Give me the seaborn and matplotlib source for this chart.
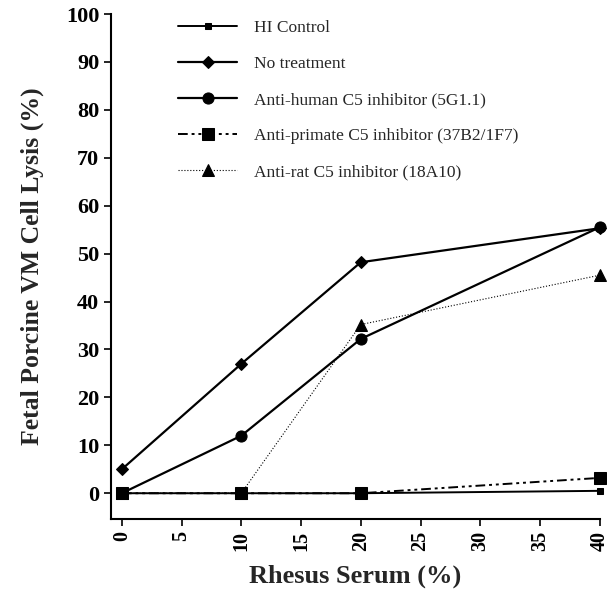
import matplotlib
matplotlib.use("Agg")
import matplotlib.pyplot as plt
import pandas as pd
import seaborn as sns

serum = [0, 10, 20, 40]
hi_control = [0.0, 0.0, 0.0, 0.5]
no_treatment = [5.0, 27.0, 48.2, 55.3]
anti_human = [0.0, 12.0, 32.2, 55.5]
anti_primate = [0.0, 0.0, 0.0, 3.2]
anti_rat = [0.0, 0.0, 35.2, 45.5]

series = [
    ("HI Control", hi_control, "s", 5, "-", 1.4),
    ("No treatment", no_treatment, "D", 6, "-", 1.6),
    ("Anti-human C5 inhibitor (5G1.1)", anti_human, "o", 8, "-", 1.6),
    ("Anti-primate C5 inhibitor (37B2/1F7)", anti_primate, "s", 8, (0, (5, 2, 1.5, 2, 1.5, 2)), 1.4),
    ("Anti-rat C5 inhibitor (18A10)", anti_rat, "^", 9, ":", 0.8),
]

sns.set_style("ticks")
plt.rcParams["font.family"] = ["Liberation Serif", "DejaVu Serif"]

fig = plt.figure(figsize=(6.07, 6.10), dpi=100)
ax = fig.add_axes([0.183, 0.149, 0.805, 0.828])

for label, vals, marker, ms, ls, lw in series:
    df = pd.DataFrame({"serum": serum, "lysis": vals})
    sns.lineplot(data=df, x="serum", y="lysis", ax=ax, color="black", marker=marker,
                 markersize=ms, markeredgecolor="black", linestyle=ls, linewidth=lw,
                 label=label, clip_on=False)

ax.set_xlim(-0.9, 40)
ax.set_ylim(-5.4, 100)
ax.set_xticks(range(0, 41, 5))
ax.set_yticks(range(0, 101, 10))
ax.tick_params(direction="out", length=5, width=1.2, labelsize=16, colors="black")
ax.tick_params(axis="x", labelrotation=90, labelsize=14.5)
for t in ax.get_xticklabels() + ax.get_yticklabels():
    t.set_fontweight("bold")
for s in ["left", "bottom"]:
    ax.spines[s].set_linewidth(1.5)
    ax.spines[s].set_color("black")
sns.despine(ax=ax)

ax.set_xlabel("Rhesus Serum (%)", fontsize=19, fontweight="bold", labelpad=10)
ax.set_ylabel("Fetal Porcine VM Cell Lysis (%)", fontsize=18.5, fontweight="bold", labelpad=16)

leg = ax.legend(loc="upper left", bbox_to_anchor=(0.137, 0.989), frameon=False, fontsize=12.5,
                handlelength=3.4, labelspacing=1.15, handletextpad=1.0,
                borderpad=0, borderaxespad=0)

fig.savefig("out.png", dpi=100)
